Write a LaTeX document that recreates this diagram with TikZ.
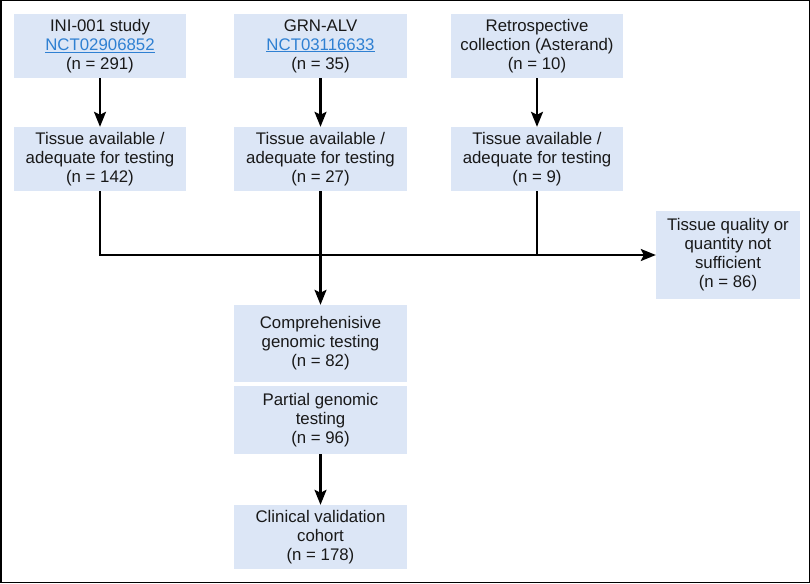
\documentclass[tikz,border=0pt]{standalone}
\usepackage{fontspec}
\setmainfont{Liberation Sans}
\usetikzlibrary{arrows.meta}
\definecolor{boxfill}{HTML}{DCE6F6}
\definecolor{linkblue}{HTML}{2F80D2}
\newcommand{\lnk}[1]{{\color{linkblue}\underline{#1}}}
\tikzset{
  box/.style={fill=boxfill, draw=none, align=center, inner sep=0pt,
    font=\fontsize{16.8}{19}\selectfont, text=black!90},
  conn/.style={line width=2.2pt, draw=black},
  arr/.style={conn, -{Stealth[length=15pt,width=12pt,inset=3pt]}}
}
\begin{document}
\begin{tikzpicture}[x=1pt,y=-1pt]
\useasboundingbox (0,0) rectangle (810,583);
\draw[line width=1.5pt] (0.75,0.75) rectangle (809.25,582.25);
% top row
\node[box, minimum width=172pt, minimum height=64pt] (s1) at (100,46) {INI-001 study\\\lnk{NCT02906852}\\(n = 291)};
\node[box, minimum width=173pt, minimum height=64pt] (s2) at (320.5,46) {GRN-ALV\\\lnk{NCT03116633}\\(n = 35)};
\node[box, minimum width=172pt, minimum height=64pt] (s3) at (537,46) {Retrospective\\collection (Asterand)\\(n = 10)};
% second row
\node[box, minimum width=172pt, minimum height=64pt] (t1) at (100,159) {Tissue available /\\adequate for testing\\(n = 142)};
\node[box, minimum width=173pt, minimum height=64pt] (t2) at (320.5,159) {Tissue available /\\adequate for testing\\(n = 27)};
\node[box, minimum width=172pt, minimum height=64pt] (t3) at (537,159) {Tissue available /\\adequate for testing\\(n = 9)};
% side
\node[box, minimum width=144pt, minimum height=88pt] (ns) at (728,255) {Tissue quality or\\quantity not\\sufficient\\(n = 86)};
% lower
\node[box, minimum width=173pt, minimum height=77pt] (cg) at (320.5,343.5) {Comprehenisive\\genomic testing\\(n = 82)};
\node[box, minimum width=173pt, minimum height=68pt] (pg) at (320.5,420) {Partial genomic\\testing\\(n = 96)};
\node[box, minimum width=173pt, minimum height=64pt] (cv) at (320.5,537) {Clinical validation\\cohort\\(n = 178)};
% connectors
\draw[arr] (s1) -- (t1);
\draw[arr] (s2) -- (t2);
\draw[arr] (s3) -- (t3);
\draw[arr] (t1.south) |- (ns.west);
\draw[conn] (t3.south) -- (t3.south |- ns.west);
\draw[arr] (t2.south) -- (cg.north);
\draw[arr] (pg) -- (cv);
\end{tikzpicture}
\end{document}
